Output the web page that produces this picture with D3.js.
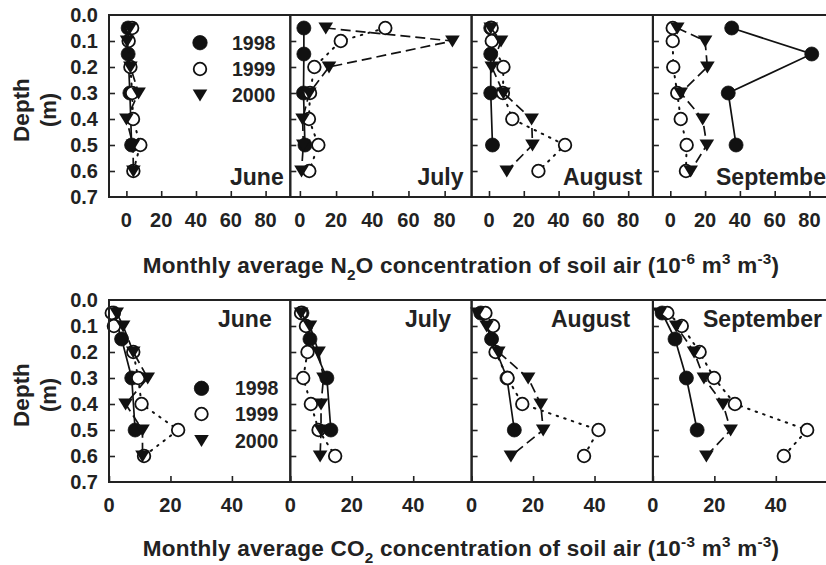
<!DOCTYPE html>
<html>
<head>
<meta charset="utf-8">
<script src="https://cdn.jsdelivr.net/npm/d3@7"></script>
<style>
  html, body { margin: 0; padding: 0; background: #fff; }
  svg { display: block; }
  text { font-family: "Liberation Sans", Arial, sans-serif; font-weight: bold; fill: #222; }
</style>
</head>
<body>
<svg id="chart" width="826" height="565"></svg>
<script>
// ---- data ----
const months = ["June", "July", "August", "September"];
const years = ["1998", "1999", "2000"];
const depthTicks = [0.0, 0.1, 0.2, 0.3, 0.4, 0.5, 0.6, 0.7];
const n2oTicks = [0, 20, 40, 60, 80];
const co2Ticks = [0, 20, 40];

// sampling depths (m)
const depths1998 = [0.05, 0.15, 0.3, 0.5];
const depths9900 = [0.05, 0.1, 0.2, 0.3, 0.4, 0.5, 0.6];

// N2O (10^-6 m3 m-3), one row per month June..September
const n2o1998 = [
  [1, 1, 2, 3],
  [2.2, 2.2, 2, 2.8],
  [1, 1, 1, 2],
  [35.3, 81.3, 33.3, 37.8]
];
const n2o1999 = [
  [3.3, 1.3, 2.3, 3.3, 3.8, 8, 4],
  [47.2, 22.6, 8, 5.6, 5, 10.2, 5.2],
  [1.5, 1.6, 8.3, 8, 13.4, 43.7, 28.4],
  [1.4, 1.4, 1.7, 4, 6, 9.4, 9]
];
const n2o2000 = [
  [2, 0.4, 2.3, 7, 0, 3.8, 4],
  [14.3, 84.3, 16.1, 5.2, 1.5, 1.9, 0.9],
  [1, 6.9, 1.6, 8.3, 24.5, 25, 10.2],
  [4, 20, 21.3, 6, 18.6, 21, 11.7]
];

// CO2 (10^-3 m3 m-3), one row per month June..September
const co21998 = [
  [1.5, 4.1, 7.4, 8.5],
  [3.8, 6.4, 11.9, 13.2],
  [3, 6.5, 11.5, 13.9],
  [3, 7.2, 10.9, 14.4]
];
const co21999 = [
  [0.9, 1.6, 7.9, 9.5, 10.6, 22.5, 11.4],
  [3.5, 5.1, 5.6, 4.2, 6.7, 9.2, 14.6],
  [4.5, 7, 7.8, 11.7, 16.5, 41.3, 36.6],
  [4.7, 9.4, 15.2, 19.9, 26.7, 50.2, 42.6]
];
const co22000 = [
  [2.5, 4.6, 7.9, 12.6, 5.4, 10.9, 10.9],
  [3.5, 6.4, 9.2, 10.8, 10, 10, 9.7],
  [1.9, 4.9, 8.7, 18.4, 22.5, 23.3, 12.8],
  [2.2, 7.6, 13.4, 16.6, 22.8, 25.3, 17.4]
];

// x ranges of the N2O panels (July spans a slightly different range)
const n2oDomains = [[-10, 94.2], [-5.3, 94.9], [-10, 94.2], [-10, 94.2]];
const co2Domain = [0, 59];

// ---- layout ----
const svg = d3.select("#chart");
const panelLeft = 109, panelW = 181.3;
const rows = [
  { top: 15, bottom: 197 },
  { top: 300, bottom: 482 }
];

const seriesStyle = {
  "1998": { dash: null, fill: "#111", shape: "circle" },
  "1999": { dash: "1.5,6.5", fill: "#fff", shape: "circle" },
  "2000": { dash: "10,5", fill: "#111", shape: "tri" }
};

const triPath = "M-7.3,-5.5L7.3,-5.5L0,6.5Z";

function drawMarker(g, shape, fill, cx, cy, r) {
  if (shape === "circle") {
    g.append("circle").attr("cx", cx).attr("cy", cy).attr("r", r)
      .attr("fill", fill).attr("stroke", "#111").attr("stroke-width", fill === "#fff" ? 1.8 : 0.8);
  } else {
    g.append("path").attr("d", triPath).attr("transform", `translate(${cx},${cy})`)
      .attr("fill", "#111");
  }
}

function drawPanel(row, col, xDomain, xTicks, s1998, s1999, s2000) {
  const r = rows[row];
  const x0 = panelLeft + col * panelW;
  const x = d3.scaleLinear().domain(xDomain).range([x0, x0 + panelW]);
  const y = d3.scaleLinear().domain([0, 0.7]).range([r.top, r.bottom]);
  const g = svg.append("g");

  // inward ticks
  const yAxis = d3.axisRight(y).tickValues(depthTicks.slice(1, -1)).tickSize(6).tickFormat("");
  g.append("g").attr("transform", `translate(${x0},0)`).call(yAxis)
    .call(a => a.select(".domain").remove())
    .call(a => a.selectAll("line").attr("stroke", "#222").attr("stroke-width", 1.6));
  const xAxis = d3.axisTop(x).tickValues(xTicks).tickSize(6).tickFormat("");
  g.append("g").attr("transform", `translate(0,${r.bottom})`).call(xAxis)
    .call(a => a.select(".domain").remove())
    .call(a => a.selectAll("line").attr("stroke", "#222").attr("stroke-width", 1.6));

  // x tick labels
  g.selectAll(".xl").data(xTicks).enter().append("text")
    .attr("x", d => x(d)).attr("y", r.bottom + 30)
    .attr("text-anchor", "middle").attr("font-size", 20).text(d => d);

  const line = d3.line().x(d => x(d.v)).y(d => y(d.d));
  const sets = [
    ["1998", depths1998, s1998],
    ["1999", depths9900, s1999],
    ["2000", depths9900, s2000]
  ];
  sets.forEach(([yr, ds, vals]) => {
    const st = seriesStyle[yr];
    const dotted = yr === "1999";
    const pts = vals.map((v, i) => ({ v, d: ds[i] }));
    g.append("path").datum(pts).attr("d", line)
      .attr("fill", "none").attr("stroke", "#111")
      .attr("stroke-width", dotted ? 2 : 1.7)
      .attr("stroke-linecap", dotted ? "round" : "butt")
      .attr("stroke-dasharray", st.dash);
    pts.forEach(p => drawMarker(g, st.shape, st.fill, x(p.v), y(p.d), st.fill === "#fff" ? 6.3 : 7));
  });

  // frame
  g.append("rect").attr("x", x0).attr("y", r.top).attr("width", panelW).attr("height", r.bottom - r.top)
    .attr("fill", "none").attr("stroke", "#222").attr("stroke-width", 2);
  return { x, y };
}

// ---- panels ----
months.forEach((m, i) => {
  drawPanel(0, i, n2oDomains[i], n2oTicks, n2o1998[i], n2o1999[i], n2o2000[i]);
  drawPanel(1, i, co2Domain, co2Ticks, co21998[i], co21999[i], co22000[i]);
});

// month names (the last top one runs past the right edge of the figure)
const topMonthX = [230, 417.5, 563, 716];
const botMonthX = [218, 405, 551, 703];
months.forEach((m, i) => {
  svg.append("text").attr("x", topMonthX[i]).attr("y", 185).attr("font-size", 23).text(m);
  svg.append("text").attr("x", botMonthX[i]).attr("y", 327).attr("font-size", 23).text(m);
});

// y tick labels and axis title
rows.forEach(r => {
  const y = d3.scaleLinear().domain([0, 0.7]).range([r.top, r.bottom]);
  svg.selectAll(null).data(depthTicks).enter().append("text")
    .attr("x", 98).attr("y", d => y(d)).attr("dy", "0.36em")
    .attr("text-anchor", "end").attr("font-size", 20).text(d => d.toFixed(1));
  const cy = (r.top + r.bottom) / 2 + 4;
  svg.append("text").attr("transform", `translate(29,${cy}) rotate(-90)`)
    .attr("text-anchor", "middle").attr("font-size", 22.5).text("Depth");
  svg.append("text").attr("transform", `translate(56,${cy}) rotate(-90)`)
    .attr("text-anchor", "middle").attr("font-size", 22).text("(m)");
});

// legends
const legendRows = [
  { x: 200, ys: [42.7, 69, 95], tx: 232 },
  { x: 201.5, ys: [388.3, 414, 440.5], tx: 235 }
];
legendRows.forEach(L => {
  years.forEach((yr, k) => {
    const st = seriesStyle[yr];
    drawMarker(svg, st.shape, st.fill, L.x, L.ys[k], st.fill === "#fff" ? 6.3 : 7.2);
    svg.append("text").attr("x", L.tx).attr("y", L.ys[k]).attr("dy", "0.36em")
      .attr("font-size", 19.5).text(yr);
  });
});

// axis titles with sub/superscripts
function richText(x, y, size, parts) {
  const t = svg.append("text").attr("x", x).attr("y", y).attr("text-anchor", "middle")
    .attr("font-size", size).attr("letter-spacing", 0.25);
  let shift = 0;
  parts.forEach(([str, kind]) => {
    let target = 0;
    if (kind === "sup") target = -size * 0.42;
    if (kind === "sub") target = size * 0.3;
    const ts = t.append("tspan").attr("dy", target - shift).text(str);
    if (kind) ts.attr("font-size", size * 0.68);
    shift = target;
  });
  return t;
}
richText(461, 273, 22.5, [
  ["Monthly average N"], ["2", "sub"], ["O concentration of soil air (10"],
  ["-6", "sup"], [" m"], ["3", "sup"], [" m"], ["-3", "sup"], [")"]
]);
richText(461, 556, 22.5, [
  ["Monthly average CO"], ["2", "sub"], [" concentration of soil air (10"],
  ["-3", "sup"], [" m"], ["3", "sup"], [" m"], ["-3", "sup"], [")"]
]);
</script>
</body>
</html>
